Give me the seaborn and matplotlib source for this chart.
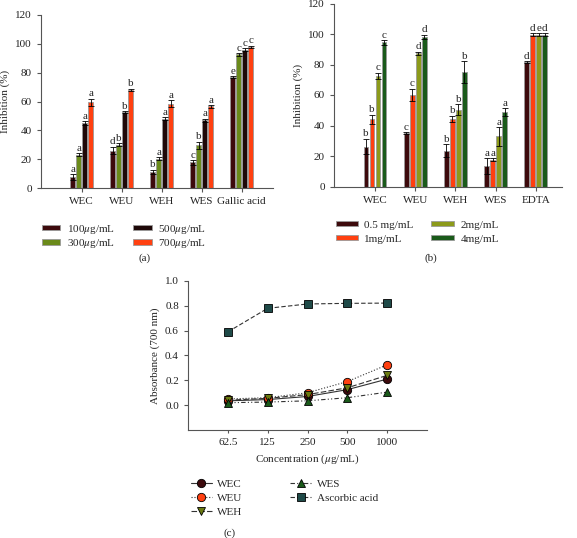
import pandas as pd
import matplotlib.pyplot as plt
import seaborn as sns

# ---- panel (a) ----
extracts_a = ['WEC', 'WEU', 'WEH', 'WES', 'Gallic acid']
doses_a = ['100$\\mu$g/mL', '300$\\mu$g/mL', '500$\\mu$g/mL', '700$\\mu$g/mL']
a_100 = [7.5, 26, 11.3, 17.8, 76.8]
a_300 = [23, 30, 20.3, 29.6, 92.7]
a_500 = [45, 52.5, 48, 47, 96]
a_700 = [59.4, 68, 58.5, 56.6, 97.8]
ea_100 = [2, 2.5, 1.5, 1.5, 0.8]
ea_300 = [1, 1, 1, 2.5, 0.8]
ea_500 = [1.5, 0.8, 1, 1, 0.8]
ea_700 = [2.5, 1, 2.5, 1, 0.8]
la_100 = ['a', 'd', 'b', 'c', 'e']
la_300 = ['a', 'b', 'a', 'b', 'c']
la_500 = ['a', 'b', 'a', 'a', 'c']
la_700 = ['a', 'b', 'a', 'a', 'c']

# ---- panel (b) ----
extracts_b = ['WEC', 'WEU', 'WEH', 'WES', 'EDTA']
doses_b = ['0.5 mg/mL', '1mg/mL', '2mg/mL', '4mg/mL']
b_05 = [26.2, 35.2, 23.6, 13.4, 81.5]
b_1 = [44, 60, 44.5, 17.4, 99.6]
b_2 = [72.7, 87.4, 50.4, 32.8, 99.6]
b_4 = [94.5, 98, 75, 48.7, 99.6]
eb_05 = [5, 0.5, 4, 5, 0.5]
eb_1 = [3, 4, 2, 1, 0.8]
eb_2 = [2, 1, 3.5, 6, 0.8]
eb_4 = [1.5, 1.5, 7, 2.5, 0.8]
lb_05 = ['b', 'c', 'b', 'a', 'd']
lb_1 = ['b', 'c', 'b', 'a', 'd']
lb_2 = ['c', 'd', 'b', 'a', 'e']
lb_4 = ['c', 'd', 'b', 'a', 'd']

# ---- panel (c) ----
conc = ['62.5', '125', '250', '500', '1000']
wec = [0.035, 0.045, 0.07, 0.125, 0.21]
weu = [0.05, 0.06, 0.1, 0.19, 0.325]
weh = [0.04, 0.055, 0.085, 0.14, 0.24]
wes = [0.02, 0.025, 0.035, 0.06, 0.105]
asc = [0.59, 0.78, 0.815, 0.82, 0.822]

sns.set_style('ticks')
plt.rcParams['font.family'] = ['Liberation Serif', 'DejaVu Serif']
plt.rcParams['mathtext.fontset'] = 'stix'
plt.rcParams['axes.edgecolor'] = '#555555'
plt.rcParams['xtick.color'] = '#555555'
plt.rcParams['ytick.color'] = '#555555'
plt.rcParams['xtick.labelcolor'] = '#222222'
plt.rcParams['ytick.labelcolor'] = '#222222'
FS = 8

W, H = 577, 538
fig = plt.figure(figsize=(W / 100, H / 100), dpi=100)


def px_axes(l, r, b, t):
    return fig.add_axes([l / W, (H - b) / H, (r - l) / W, (b - t) / H])


def bar_panel(ax, extracts, doses, vals, errs, lets, colors, ylab, xlim):
    df = pd.DataFrame({
        'extract': extracts * len(doses),
        'dose': [d for d in doses for _ in extracts],
        'value': [v for vs in vals for v in vs],
    })
    sns.barplot(data=df, x='extract', y='value', hue='dose', palette=colors,
                width=0.6, gap=0.2, edgecolor='#9a9a9a', linewidth=0.6,
                errorbar=None, saturation=1, ax=ax)
    for cont, er, lt in zip(ax.containers, errs, lets):
        for bar, e, l in zip(cont, er, lt):
            x = bar.get_x() + bar.get_width() / 2
            h = bar.get_height()
            ax.errorbar(x, h, yerr=e, color='black', lw=0.6, capsize=2.4,
                        capthick=0.6, zorder=5)
            ax.text(x, h + e + 0.3, l, ha='center', va='bottom', fontsize=FS)
    ax.set_ylim(0, 120)
    ax.set_yticks(range(0, 121, 20))
    ax.set_xlim(*xlim)
    ax.set_xlabel('')
    ax.set_ylabel(ylab, fontsize=FS)
    ax.tick_params(labelsize=FS, length=3, width=0.8)
    sns.despine(ax=ax)
    handles, labels = ax.get_legend_handles_labels()
    return handles, labels


ax_a = px_axes(41, 273, 188, 15)
h, l = bar_panel(ax_a, extracts_a, doses_a, [a_100, a_300, a_500, a_700],
                 [ea_100, ea_300, ea_500, ea_700],
                 [la_100, la_300, la_500, la_700],
                 ['#3d0a0c', '#6a8a1a', '#1e0808', '#ff4010'], 'Inhibition (%)',
                 (-1.02, 4.78))
ax_a.legend(h, l, loc='upper left', bbox_to_anchor=(36 / W, 1 - 217 / H),
            bbox_transform=fig.transFigure, ncol=2, frameon=False, fontsize=FS,
            handlelength=1.7, handleheight=0.4, handletextpad=0.6,
            columnspacing=1.6, borderpad=0, labelspacing=0.15)
fig.text(145 / W, 1 - 258 / H, '(a)', ha='center', va='center', fontsize=FS)

ax_b = px_axes(334, 562, 186.5, 3.5)
h, l = bar_panel(ax_b, extracts_b, doses_b, [b_05, b_1, b_2, b_4],
                 [eb_05, eb_1, eb_2, eb_4], [lb_05, lb_1, lb_2, lb_4],
                 ['#3d0a0c', '#ff4010', '#8c9a1a', '#1a5a1a'], 'Inhibition (%)',
                 (-1.02, 4.65))
ax_b.legend(h, l, loc='upper left', bbox_to_anchor=(330 / W, 1 - 215 / H),
            bbox_transform=fig.transFigure, ncol=2, frameon=False, fontsize=FS,
            handlelength=2.0, handleheight=0.4, handletextpad=0.6,
            columnspacing=1.6, borderpad=0, labelspacing=0.45)
fig.text(431 / W, 1 - 258 / H, '(b)', ha='center', va='center', fontsize=FS)

# ---- line panel ----
ax_c = px_axes(188, 427, 430, 281)
series = [
    ('WEC', wec, 'o', '#3d0a0c', '-'),
    ('WEU', weu, 'o', '#ff4010', ':'),
    ('WEH', weh, 'v', '#6a7a10', (0, (5, 2))),
    ('WES', wes, '^', '#1a5a1a', (0, (4, 2, 1, 2, 1, 2))),
    ('Ascorbic acid', asc, 's', '#1f4a48', (0, (4, 2))),
]
for name, vals, mk, col, ls in series:
    sns.lineplot(x=conc, y=vals, marker=mk, markersize=6, color='#333333',
                 markerfacecolor=col, markeredgecolor='black',
                 markeredgewidth=0.6, linestyle=ls, lw=0.8, label=name,
                 ax=ax_c)
ax_c.set_xlim(-1, 5)
ax_c.set_ylim(-0.2, 1.0)
ax_c.set_yticks([0.0, 0.2, 0.4, 0.6, 0.8, 1.0])
ax_c.set_yticklabels(['0.0', '0.2', '0.4', '0.6', '0.8', '1.0'])
ax_c.set_xlabel('Concentration ($\\mu$g/mL)', fontsize=FS)
ax_c.set_ylabel('Absorbance (700 nm)', fontsize=FS)
ax_c.tick_params(labelsize=FS, length=3, width=0.8)
ax_c.tick_params(axis='x', length=2)
sns.despine(ax=ax_c)
h, l = ax_c.get_legend_handles_labels()
ax_c.legend(h, l, loc='upper left', bbox_to_anchor=(185 / W, 1 - 474 / H),
            bbox_transform=fig.transFigure, ncol=2, frameon=False, fontsize=FS,
            handlelength=1.9, handletextpad=0.5, columnspacing=4.3,
            borderpad=0, labelspacing=0.35)
fig.text(230 / W, 1 - 533 / H, '(c)', ha='center', va='center', fontsize=FS)

fig.savefig('out.png', dpi=100)
